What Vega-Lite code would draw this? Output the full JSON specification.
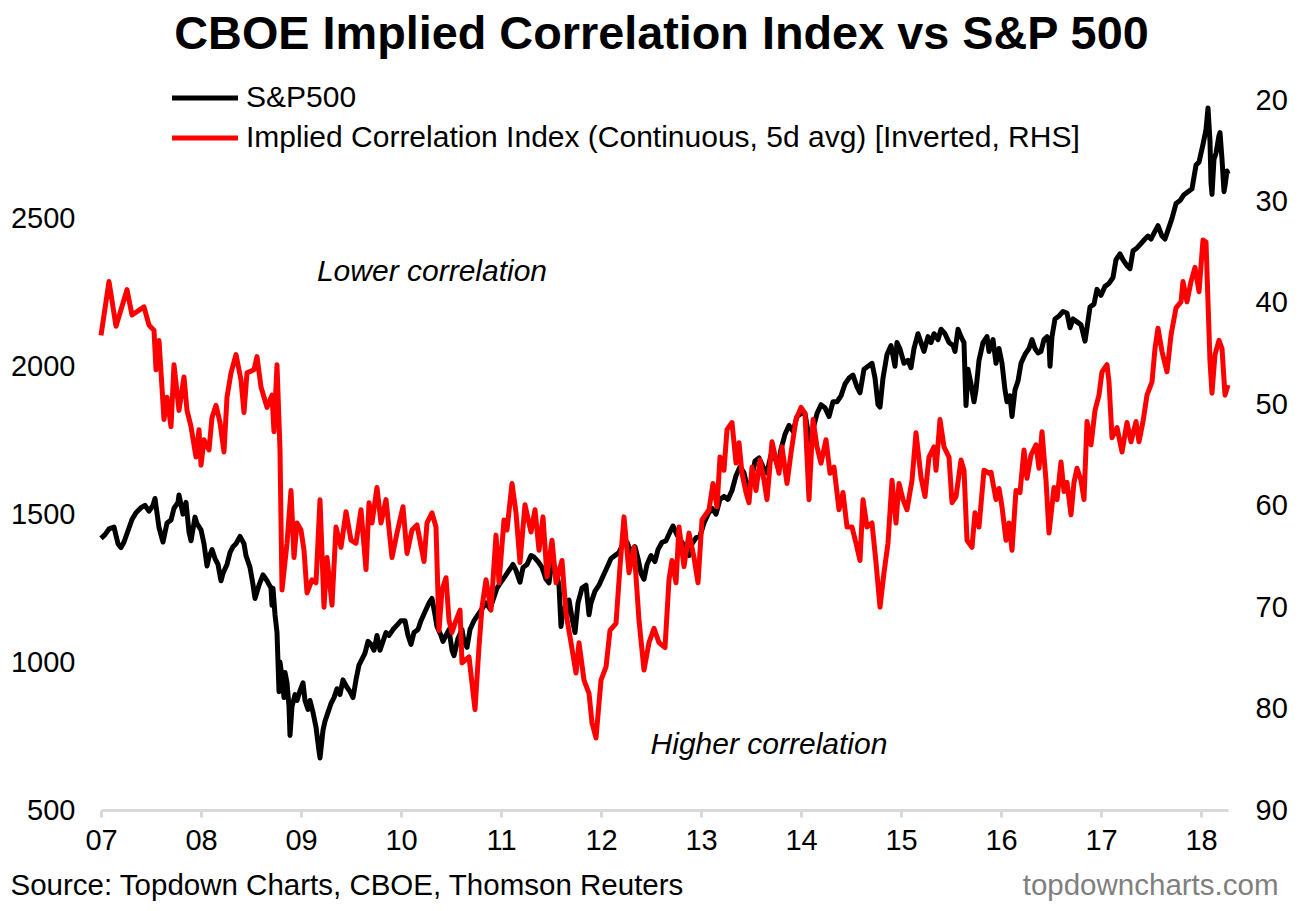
{
  "$schema": "https://vega.github.io/schema/vega-lite/v6.json",
  "width": 1127,
  "height": 710,
  "autosize": "none",
  "padding": {"left": 101, "top": 100, "right": 71, "bottom": 101},
  "background": "white",
  "title": {
    "text": "CBOE Implied Correlation Index vs S&P 500",
    "font": "Liberation Sans",
    "fontSize": 46.8,
    "fontWeight": "bold",
    "color": "#000000",
    "anchor": "middle",
    "dx": -3,
    "offset": 24
  },
  "datasets": {
    "spx": [
      {"t":2007.00,"v":1418},{"t":2007.04,"v":1431},{"t":2007.08,"v":1450},{"t":2007.13,"v":1456},{"t":2007.17,"v":1400},
      {"t":2007.20,"v":1387},{"t":2007.23,"v":1406},{"t":2007.27,"v":1444},{"t":2007.31,"v":1482},{"t":2007.35,"v":1505},
      {"t":2007.40,"v":1522},{"t":2007.44,"v":1530},{"t":2007.48,"v":1510},{"t":2007.52,"v":1530},{"t":2007.54,"v":1553},
      {"t":2007.58,"v":1455},{"t":2007.62,"v":1406},{"t":2007.66,"v":1470},{"t":2007.70,"v":1480},{"t":2007.73,"v":1520},
      {"t":2007.77,"v":1540},{"t":2007.78,"v":1565},{"t":2007.82,"v":1500},{"t":2007.85,"v":1540},{"t":2007.88,"v":1440},
      {"t":2007.90,"v":1410},{"t":2007.94,"v":1490},{"t":2007.96,"v":1468},{"t":2008.00,"v":1447},{"t":2008.03,"v":1400},
      {"t":2008.06,"v":1325},{"t":2008.08,"v":1355},{"t":2008.11,"v":1380},{"t":2008.14,"v":1350},{"t":2008.17,"v":1330},
      {"t":2008.20,"v":1275},{"t":2008.22,"v":1300},{"t":2008.26,"v":1330},{"t":2008.29,"v":1370},{"t":2008.32,"v":1390},
      {"t":2008.35,"v":1400},{"t":2008.39,"v":1425},{"t":2008.43,"v":1400},{"t":2008.45,"v":1360},{"t":2008.49,"v":1320},
      {"t":2008.52,"v":1262},{"t":2008.54,"v":1215},{"t":2008.58,"v":1260},{"t":2008.62,"v":1295},{"t":2008.66,"v":1275},
      {"t":2008.70,"v":1250},{"t":2008.71,"v":1192},{"t":2008.72,"v":1250},{"t":2008.74,"v":1160},{"t":2008.76,"v":1100},
      {"t":2008.77,"v":1000},{"t":2008.78,"v":900},{"t":2008.79,"v":1000},{"t":2008.81,"v":950},{"t":2008.83,"v":880},
      {"t":2008.84,"v":965},{"t":2008.86,"v":930},{"t":2008.88,"v":850},{"t":2008.89,"v":752},{"t":2008.91,"v":850},
      {"t":2008.94,"v":890},{"t":2008.96,"v":870},{"t":2008.99,"v":903},{"t":2009.02,"v":930},{"t":2009.04,"v":870},
      {"t":2009.07,"v":840},{"t":2009.09,"v":870},{"t":2009.12,"v":830},{"t":2009.15,"v":780},{"t":2009.18,"v":700},
      {"t":2009.19,"v":676},{"t":2009.22,"v":770},{"t":2009.24,"v":800},{"t":2009.27,"v":830},{"t":2009.30,"v":860},
      {"t":2009.33,"v":880},{"t":2009.36,"v":910},{"t":2009.39,"v":890},{"t":2009.42,"v":940},{"t":2009.45,"v":920},
      {"t":2009.49,"v":900},{"t":2009.52,"v":880},{"t":2009.55,"v":940},{"t":2009.58,"v":990},{"t":2009.61,"v":1010},
      {"t":2009.64,"v":1030},{"t":2009.67,"v":1070},{"t":2009.70,"v":1060},{"t":2009.73,"v":1040},{"t":2009.76,"v":1090},
      {"t":2009.79,"v":1040},{"t":2009.82,"v":1070},{"t":2009.85,"v":1100},{"t":2009.88,"v":1090},{"t":2009.92,"v":1110},
      {"t":2009.96,"v":1125},{"t":2010.00,"v":1140},{"t":2010.04,"v":1140},{"t":2010.07,"v":1090},{"t":2010.10,"v":1060},
      {"t":2010.13,"v":1100},{"t":2010.17,"v":1110},{"t":2010.20,"v":1140},{"t":2010.24,"v":1170},{"t":2010.28,"v":1200},
      {"t":2010.31,"v":1215},{"t":2010.34,"v":1160},{"t":2010.36,"v":1120},{"t":2010.40,"v":1090},{"t":2010.42,"v":1070},
      {"t":2010.45,"v":1090},{"t":2010.48,"v":1110},{"t":2010.51,"v":1040},{"t":2010.53,"v":1022},{"t":2010.57,"v":1080},
      {"t":2010.61,"v":1110},{"t":2010.63,"v":1070},{"t":2010.66,"v":1050},{"t":2010.69,"v":1110},{"t":2010.73,"v":1140},
      {"t":2010.77,"v":1160},{"t":2010.81,"v":1180},{"t":2010.85,"v":1200},{"t":2010.89,"v":1180},{"t":2010.92,"v":1210},
      {"t":2010.96,"v":1250},{"t":2011.00,"v":1270},{"t":2011.04,"v":1290},{"t":2011.08,"v":1310},{"t":2011.12,"v":1330},
      {"t":2011.15,"v":1310},{"t":2011.19,"v":1270},{"t":2011.22,"v":1320},{"t":2011.26,"v":1330},{"t":2011.30,"v":1360},
      {"t":2011.33,"v":1355},{"t":2011.37,"v":1340},{"t":2011.41,"v":1320},{"t":2011.45,"v":1280},{"t":2011.48,"v":1268},
      {"t":2011.51,"v":1340},{"t":2011.54,"v":1320},{"t":2011.58,"v":1260},{"t":2011.60,"v":1120},{"t":2011.62,"v":1180},
      {"t":2011.65,"v":1160},{"t":2011.68,"v":1210},{"t":2011.71,"v":1150},{"t":2011.74,"v":1100},{"t":2011.77,"v":1200},
      {"t":2011.81,"v":1250},{"t":2011.85,"v":1260},{"t":2011.88,"v":1160},{"t":2011.90,"v":1200},{"t":2011.94,"v":1240},
      {"t":2011.98,"v":1260},{"t":2012.02,"v":1290},{"t":2012.06,"v":1320},{"t":2012.10,"v":1350},{"t":2012.14,"v":1360},
      {"t":2012.18,"v":1370},{"t":2012.22,"v":1400},{"t":2012.26,"v":1405},{"t":2012.30,"v":1370},{"t":2012.34,"v":1390},
      {"t":2012.37,"v":1350},{"t":2012.40,"v":1300},{"t":2012.43,"v":1280},{"t":2012.46,"v":1330},{"t":2012.50,"v":1360},
      {"t":2012.54,"v":1340},{"t":2012.57,"v":1380},{"t":2012.61,"v":1405},{"t":2012.65,"v":1410},{"t":2012.69,"v":1440},
      {"t":2012.72,"v":1460},{"t":2012.76,"v":1430},{"t":2012.80,"v":1410},{"t":2012.84,"v":1390},{"t":2012.88,"v":1360},
      {"t":2012.91,"v":1400},{"t":2012.95,"v":1420},{"t":2012.99,"v":1426},{"t":2013.03,"v":1470},{"t":2013.07,"v":1500},
      {"t":2013.11,"v":1520},{"t":2013.15,"v":1500},{"t":2013.19,"v":1550},{"t":2013.23,"v":1560},{"t":2013.27,"v":1550},
      {"t":2013.31,"v":1580},{"t":2013.35,"v":1630},{"t":2013.39,"v":1660},{"t":2013.43,"v":1640},{"t":2013.47,"v":1580},
      {"t":2013.50,"v":1610},{"t":2013.54,"v":1680},{"t":2013.58,"v":1690},{"t":2013.62,"v":1660},{"t":2013.66,"v":1640},
      {"t":2013.70,"v":1700},{"t":2013.74,"v":1690},{"t":2013.77,"v":1660},{"t":2013.80,"v":1720},{"t":2013.84,"v":1770},
      {"t":2013.88,"v":1800},{"t":2013.92,"v":1780},{"t":2013.96,"v":1830},{"t":2014.00,"v":1840},{"t":2014.04,"v":1840},
      {"t":2014.07,"v":1780},{"t":2014.10,"v":1741},{"t":2014.13,"v":1800},{"t":2014.16,"v":1840},{"t":2014.20,"v":1870},
      {"t":2014.24,"v":1860},{"t":2014.28,"v":1830},{"t":2014.32,"v":1880},{"t":2014.36,"v":1880},{"t":2014.40,"v":1900},
      {"t":2014.44,"v":1940},{"t":2014.48,"v":1960},{"t":2014.52,"v":1970},{"t":2014.56,"v":1930},{"t":2014.59,"v":1910},
      {"t":2014.63,"v":1990},{"t":2014.67,"v":2000},{"t":2014.71,"v":2010},{"t":2014.74,"v":1960},{"t":2014.77,"v":1870},
      {"t":2014.79,"v":1862},{"t":2014.82,"v":1960},{"t":2014.86,"v":2040},{"t":2014.90,"v":2070},{"t":2014.94,"v":2000},
      {"t":2014.96,"v":2080},{"t":2014.99,"v":2058},{"t":2015.03,"v":2010},{"t":2015.07,"v":2020},{"t":2015.10,"v":1995},
      {"t":2015.13,"v":2060},{"t":2015.17,"v":2110},{"t":2015.20,"v":2080},{"t":2015.23,"v":2050},{"t":2015.27,"v":2100},
      {"t":2015.30,"v":2080},{"t":2015.33,"v":2110},{"t":2015.37,"v":2090},{"t":2015.40,"v":2125},{"t":2015.44,"v":2110},
      {"t":2015.48,"v":2080},{"t":2015.52,"v":2070},{"t":2015.54,"v":2050},{"t":2015.57,"v":2125},{"t":2015.60,"v":2100},
      {"t":2015.63,"v":2080},{"t":2015.64,"v":1970},{"t":2015.65,"v":1867},{"t":2015.67,"v":1990},{"t":2015.70,"v":1940},
      {"t":2015.73,"v":1880},{"t":2015.75,"v":1920},{"t":2015.78,"v":2020},{"t":2015.82,"v":2080},{"t":2015.86,"v":2100},
      {"t":2015.88,"v":2050},{"t":2015.92,"v":2090},{"t":2015.95,"v":2010},{"t":2015.98,"v":2060},{"t":2016.01,"v":2010},
      {"t":2016.04,"v":1920},{"t":2016.06,"v":1880},{"t":2016.09,"v":1900},{"t":2016.11,"v":1830},{"t":2016.14,"v":1920},
      {"t":2016.17,"v":1950},{"t":2016.20,"v":2010},{"t":2016.24,"v":2040},{"t":2016.28,"v":2060},{"t":2016.31,"v":2090},
      {"t":2016.34,"v":2060},{"t":2016.37,"v":2045},{"t":2016.40,"v":2050},{"t":2016.43,"v":2090},{"t":2016.46,"v":2100},
      {"t":2016.48,"v":2080},{"t":2016.49,"v":2000},{"t":2016.51,"v":2100},{"t":2016.54,"v":2160},{"t":2016.58,"v":2170},
      {"t":2016.62,"v":2185},{"t":2016.66,"v":2180},{"t":2016.69,"v":2130},{"t":2016.72,"v":2160},{"t":2016.76,"v":2150},
      {"t":2016.80,"v":2140},{"t":2016.84,"v":2085},{"t":2016.86,"v":2130},{"t":2016.89,"v":2200},{"t":2016.93,"v":2210},
      {"t":2016.96,"v":2260},{"t":2017.00,"v":2240},{"t":2017.04,"v":2270},{"t":2017.08,"v":2280},{"t":2017.12,"v":2300},
      {"t":2017.15,"v":2360},{"t":2017.19,"v":2380},{"t":2017.22,"v":2360},{"t":2017.26,"v":2340},{"t":2017.29,"v":2330},
      {"t":2017.32,"v":2390},{"t":2017.36,"v":2400},{"t":2017.40,"v":2415},{"t":2017.44,"v":2430},{"t":2017.47,"v":2440},
      {"t":2017.50,"v":2430},{"t":2017.53,"v":2450},{"t":2017.57,"v":2475},{"t":2017.61,"v":2440},{"t":2017.64,"v":2430},
      {"t":2017.67,"v":2460},{"t":2017.71,"v":2500},{"t":2017.75,"v":2550},{"t":2017.79,"v":2560},{"t":2017.83,"v":2580},
      {"t":2017.87,"v":2590},{"t":2017.91,"v":2600},{"t":2017.95,"v":2680},{"t":2017.98,"v":2690},{"t":2018.02,"v":2750},
      {"t":2018.05,"v":2800},{"t":2018.07,"v":2873},{"t":2018.09,"v":2760},{"t":2018.10,"v":2620},{"t":2018.11,"v":2581},
      {"t":2018.13,"v":2700},{"t":2018.15,"v":2720},{"t":2018.18,"v":2780},{"t":2018.19,"v":2790},{"t":2018.21,"v":2700},
      {"t":2018.23,"v":2590},{"t":2018.24,"v":2610},{"t":2018.26,"v":2660},{"t":2018.27,"v":2650}
    ],
    "corr": [
      {"t":2007.00,"c":43.2},{"t":2007.08,"c":37.9},{"t":2007.15,"c":42.3},{"t":2007.26,"c":38.7},{"t":2007.31,"c":41.2},
      {"t":2007.43,"c":40.4},{"t":2007.48,"c":42.2},{"t":2007.53,"c":42.7},{"t":2007.55,"c":46.6},{"t":2007.58,"c":43.7},
      {"t":2007.63,"c":51.5},{"t":2007.66,"c":49.3},{"t":2007.70,"c":52.2},{"t":2007.73,"c":46.1},{"t":2007.78,"c":50.6},
      {"t":2007.83,"c":47.3},{"t":2007.86,"c":50.6},{"t":2007.90,"c":52.2},{"t":2007.95,"c":55.2},{"t":2007.98,"c":52.5},
      {"t":2008.00,"c":56.0},{"t":2008.03,"c":53.5},{"t":2008.08,"c":54.5},{"t":2008.11,"c":51.3},{"t":2008.15,"c":50.1},
      {"t":2008.19,"c":51.8},{"t":2008.23,"c":54.7},{"t":2008.26,"c":49.3},{"t":2008.30,"c":46.9},{"t":2008.35,"c":45.1},
      {"t":2008.40,"c":47.6},{"t":2008.43,"c":50.8},{"t":2008.46,"c":46.9},{"t":2008.53,"c":46.6},{"t":2008.56,"c":45.3},
      {"t":2008.60,"c":48.3},{"t":2008.66,"c":50.3},{"t":2008.71,"c":49.1},{"t":2008.73,"c":52.7},{"t":2008.76,"c":46.1},
      {"t":2008.79,"c":54.5},{"t":2008.81,"c":68.3},{"t":2008.86,"c":63.7},{"t":2008.90,"c":58.5},{"t":2008.93,"c":65.1},
      {"t":2008.96,"c":61.7},{"t":2009.00,"c":62.4},{"t":2009.03,"c":64.4},{"t":2009.06,"c":68.6},{"t":2009.11,"c":67.3},
      {"t":2009.15,"c":67.6},{"t":2009.19,"c":59.4},{"t":2009.23,"c":70.0},{"t":2009.26,"c":65.1},{"t":2009.31,"c":69.8},
      {"t":2009.35,"c":62.1},{"t":2009.40,"c":64.1},{"t":2009.45,"c":60.6},{"t":2009.50,"c":63.4},{"t":2009.55,"c":63.7},
      {"t":2009.60,"c":60.4},{"t":2009.65,"c":66.3},{"t":2009.68,"c":59.7},{"t":2009.71,"c":61.7},{"t":2009.76,"c":58.2},
      {"t":2009.80,"c":61.7},{"t":2009.85,"c":59.4},{"t":2009.91,"c":65.1},{"t":2009.96,"c":62.7},{"t":2010.02,"c":60.1},
      {"t":2010.06,"c":64.7},{"t":2010.11,"c":62.4},{"t":2010.16,"c":61.9},{"t":2010.23,"c":65.5},{"t":2010.26,"c":61.7},
      {"t":2010.31,"c":60.7},{"t":2010.35,"c":62.1},{"t":2010.38,"c":72.3},{"t":2010.41,"c":68.3},{"t":2010.45,"c":67.1},
      {"t":2010.48,"c":71.3},{"t":2010.51,"c":72.5},{"t":2010.55,"c":71.3},{"t":2010.59,"c":70.3},{"t":2010.61,"c":75.5},
      {"t":2010.68,"c":74.9},{"t":2010.74,"c":80.1},{"t":2010.78,"c":73.9},{"t":2010.81,"c":70.0},{"t":2010.85,"c":67.3},
      {"t":2010.90,"c":70.3},{"t":2010.95,"c":62.9},{"t":2010.98,"c":67.6},{"t":2011.03,"c":61.4},{"t":2011.06,"c":62.4},
      {"t":2011.11,"c":57.8},{"t":2011.15,"c":60.7},{"t":2011.19,"c":65.6},{"t":2011.24,"c":59.9},{"t":2011.30,"c":62.6},
      {"t":2011.34,"c":60.4},{"t":2011.38,"c":64.4},{"t":2011.42,"c":61.1},{"t":2011.46,"c":67.0},{"t":2011.51,"c":63.4},
      {"t":2011.55,"c":67.6},{"t":2011.61,"c":65.4},{"t":2011.65,"c":70.6},{"t":2011.70,"c":73.5},{"t":2011.75,"c":76.5},
      {"t":2011.78,"c":73.5},{"t":2011.83,"c":77.2},{"t":2011.88,"c":78.5},{"t":2011.91,"c":81.4},{"t":2011.95,"c":82.9},
      {"t":2012.00,"c":77.2},{"t":2012.05,"c":75.9},{"t":2012.09,"c":72.3},{"t":2012.15,"c":71.6},{"t":2012.19,"c":66.0},
      {"t":2012.23,"c":61.1},{"t":2012.28,"c":66.6},{"t":2012.33,"c":64.1},{"t":2012.38,"c":71.3},{"t":2012.43,"c":76.2},
      {"t":2012.48,"c":73.5},{"t":2012.53,"c":72.1},{"t":2012.58,"c":73.5},{"t":2012.64,"c":74.0},{"t":2012.68,"c":67.3},
      {"t":2012.71,"c":65.4},{"t":2012.75,"c":67.6},{"t":2012.78,"c":62.1},{"t":2012.83,"c":66.0},{"t":2012.88,"c":62.7},
      {"t":2012.93,"c":65.1},{"t":2012.97,"c":67.6},{"t":2013.01,"c":61.4},{"t":2013.08,"c":60.4},{"t":2013.12,"c":57.8},
      {"t":2013.16,"c":60.1},{"t":2013.19,"c":55.2},{"t":2013.23,"c":56.5},{"t":2013.26,"c":52.5},{"t":2013.31,"c":51.8},
      {"t":2013.35,"c":55.8},{"t":2013.38,"c":53.8},{"t":2013.41,"c":56.8},{"t":2013.45,"c":58.7},{"t":2013.48,"c":59.7},
      {"t":2013.51,"c":56.2},{"t":2013.55,"c":58.5},{"t":2013.59,"c":55.5},{"t":2013.63,"c":57.5},{"t":2013.66,"c":59.4},
      {"t":2013.71,"c":53.7},{"t":2013.75,"c":55.5},{"t":2013.78,"c":56.8},{"t":2013.81,"c":54.2},{"t":2013.86,"c":57.8},
      {"t":2013.90,"c":54.8},{"t":2013.95,"c":51.5},{"t":2014.00,"c":50.3},{"t":2014.04,"c":50.9},{"t":2014.08,"c":59.4},
      {"t":2014.12,"c":51.5},{"t":2014.16,"c":54.2},{"t":2014.20,"c":55.8},{"t":2014.25,"c":53.5},{"t":2014.29,"c":56.8},
      {"t":2014.33,"c":56.2},{"t":2014.38,"c":60.4},{"t":2014.42,"c":58.7},{"t":2014.46,"c":62.1},{"t":2014.51,"c":62.1},
      {"t":2014.55,"c":63.7},{"t":2014.59,"c":65.4},{"t":2014.62,"c":59.4},{"t":2014.66,"c":62.1},{"t":2014.71,"c":61.7},
      {"t":2014.75,"c":65.6},{"t":2014.79,"c":70.0},{"t":2014.83,"c":66.6},{"t":2014.87,"c":63.7},{"t":2014.91,"c":57.5},
      {"t":2014.95,"c":61.7},{"t":2014.98,"c":57.8},{"t":2015.02,"c":59.4},{"t":2015.06,"c":60.4},{"t":2015.11,"c":57.5},
      {"t":2015.15,"c":52.8},{"t":2015.20,"c":57.2},{"t":2015.24,"c":59.1},{"t":2015.28,"c":55.2},{"t":2015.33,"c":54.2},
      {"t":2015.35,"c":56.5},{"t":2015.39,"c":51.5},{"t":2015.43,"c":54.2},{"t":2015.48,"c":55.2},{"t":2015.51,"c":59.7},
      {"t":2015.55,"c":59.1},{"t":2015.60,"c":55.5},{"t":2015.63,"c":56.5},{"t":2015.66,"c":63.4},{"t":2015.71,"c":64.1},
      {"t":2015.74,"c":60.7},{"t":2015.78,"c":62.1},{"t":2015.83,"c":56.5},{"t":2015.88,"c":56.8},{"t":2015.90,"c":56.7},
      {"t":2015.95,"c":59.4},{"t":2015.98,"c":58.3},{"t":2016.01,"c":60.1},{"t":2016.05,"c":63.4},{"t":2016.08,"c":61.7},
      {"t":2016.11,"c":64.4},{"t":2016.15,"c":58.5},{"t":2016.19,"c":58.7},{"t":2016.23,"c":54.5},{"t":2016.26,"c":57.3},
      {"t":2016.30,"c":55.0},{"t":2016.35,"c":54.0},{"t":2016.38,"c":56.3},{"t":2016.41,"c":52.7},{"t":2016.45,"c":57.5},
      {"t":2016.48,"c":62.7},{"t":2016.53,"c":58.2},{"t":2016.56,"c":59.4},{"t":2016.60,"c":55.7},{"t":2016.63,"c":58.6},
      {"t":2016.66,"c":57.7},{"t":2016.70,"c":60.9},{"t":2016.73,"c":57.7},{"t":2016.76,"c":56.3},{"t":2016.80,"c":57.5},
      {"t":2016.83,"c":59.4},{"t":2016.86,"c":51.7},{"t":2016.90,"c":54.0},{"t":2016.94,"c":50.6},{"t":2016.98,"c":49.1},
      {"t":2017.01,"c":46.8},{"t":2017.06,"c":46.1},{"t":2017.08,"c":47.8},{"t":2017.11,"c":53.3},{"t":2017.16,"c":52.3},
      {"t":2017.21,"c":54.7},{"t":2017.26,"c":51.8},{"t":2017.30,"c":53.7},{"t":2017.35,"c":51.7},{"t":2017.38,"c":53.7},
      {"t":2017.42,"c":51.7},{"t":2017.46,"c":49.1},{"t":2017.51,"c":47.8},{"t":2017.54,"c":44.5},{"t":2017.57,"c":42.5},
      {"t":2017.61,"c":44.8},{"t":2017.66,"c":46.8},{"t":2017.70,"c":43.2},{"t":2017.75,"c":40.5},{"t":2017.80,"c":39.9},
      {"t":2017.82,"c":37.9},{"t":2017.86,"c":39.9},{"t":2017.90,"c":37.9},{"t":2017.94,"c":36.5},{"t":2017.98,"c":38.9},
      {"t":2018.02,"c":33.8},{"t":2018.05,"c":34.0},{"t":2018.09,"c":45.8},{"t":2018.11,"c":48.9},{"t":2018.14,"c":45.1},
      {"t":2018.18,"c":43.7},{"t":2018.21,"c":44.5},{"t":2018.24,"c":49.1},{"t":2018.27,"c":48.1}
    ],
    "notes": [
      {"t":2010.31,"v":2317,"label":"Lower correlation"},
      {"t":2013.68,"v":720,"label":"Higher correlation"}
    ]
  },
  "encoding": {
    "x": {
      "field": "t",
      "type": "quantitative",
      "scale": {"domain": [2007, 2018.27], "nice": false, "zero": false},
      "axis": {
        "values": [2007, 2008, 2009, 2010, 2011, 2012, 2013, 2014, 2015, 2016, 2017, 2018],
        "labelExpr": "slice(toString(datum.value), 2)",
        "grid": false,
        "domainColor": "#d9d9d9",
        "domainWidth": 3,
        "tickColor": "#d9d9d9",
        "tickWidth": 3,
        "tickSize": 7,
        "labelFlush": false,
        "labelOverlap": false,
        "labelFontSize": 29,
        "labelPadding": 9,
        "title": "Source: Topdown Charts, CBOE, Thomson Reuters",
        "titleFontSize": 29.5,
        "titleFontWeight": "normal",
        "titleAngle": 0,
        "titleAlign": "left",
        "titleBaseline": "alphabetic",
        "titleX": -91,
        "titleY": 84
      }
    }
  },
  "layer": [
    {
      "data": {"name": "spx"},
      "mark": {"type": "line", "strokeWidth": 5, "strokeJoin": "round"},
      "encoding": {
        "y": {
          "field": "v",
          "type": "quantitative",
          "scale": {"domain": [500, 2900], "nice": false, "zero": false},
          "axis": {
            "values": [500, 1000, 1500, 2000, 2500],
            "format": "d",
            "grid": false,
            "domain": false,
            "ticks": false,
            "labelPadding": 26,
            "labelFontSize": 29,
            "title": null
          }
        },
        "color": {"datum": "S&P500"}
      }
    },
    {
      "data": {"name": "corr"},
      "mark": {"type": "line", "strokeWidth": 5, "strokeJoin": "round"},
      "encoding": {
        "y": {
          "field": "c",
          "type": "quantitative",
          "scale": {"domain": [20, 90], "reverse": true, "nice": false, "zero": false},
          "axis": {
            "orient": "right",
            "values": [20, 30, 40, 50, 60, 70, 80, 90],
            "format": "d",
            "grid": false,
            "domain": false,
            "ticks": false,
            "labelPadding": 27,
            "labelFontSize": 29,
            "title": "topdowncharts.com",
            "titleColor": "#7f7f7f",
            "titleFontSize": 29.5,
            "titleFontWeight": "normal",
            "titleAngle": 0,
            "titleAlign": "right",
            "titleBaseline": "alphabetic",
            "titleX": 50,
            "titleY": 794
          }
        },
        "color": {"datum": "Implied Correlation Index (Continuous, 5d avg) [Inverted, RHS]"}
      }
    },
    {
      "data": {"name": "notes"},
      "mark": {"type": "text", "fontSize": 30, "fontStyle": "italic", "color": "#000000"},
      "encoding": {
        "y": {
          "field": "v",
          "type": "quantitative",
          "scale": {"domain": [500, 2900], "nice": false, "zero": false},
          "axis": null
        },
        "text": {"field": "label"}
      }
    }
  ],
  "resolve": {"scale": {"y": "independent"}},
  "config": {
    "font": "Liberation Sans",
    "view": {"stroke": null},
    "axis": {"labelFont": "Liberation Sans", "labelColor": "#000000", "titleFont": "Liberation Sans", "titleColor": "#000000"},
    "legend": {
      "orient": "none",
      "legendX": 89,
      "legendY": -17,
      "title": null,
      "symbolType": "M-3,0H3",
      "symbolSize": 484,
      "symbolStrokeWidth": 5,
      "labelFont": "Liberation Sans",
      "labelFontSize": 30,
      "labelColor": "#000000",
      "labelOffset": 26,
      "labelLimit": 1200,
      "rowPadding": 10,
      "padding": 0
    },
    "range": {"category": ["#000000", "#ff0000"]}
  }
}
